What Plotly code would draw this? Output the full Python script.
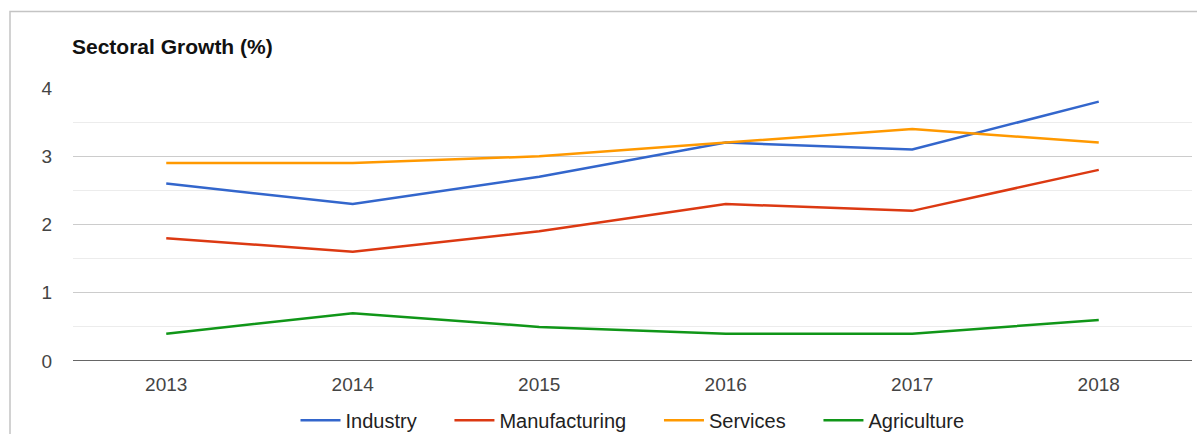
import plotly.graph_objects as go

years = ["2013", "2014", "2015", "2016", "2017", "2018"]
industry = [2.6, 2.3, 2.7, 3.2, 3.1, 3.8]
manufacturing = [1.8, 1.6, 1.9, 2.3, 2.2, 2.8]
services = [2.9, 2.9, 3.0, 3.2, 3.4, 3.2]
agriculture = [0.4, 0.7, 0.5, 0.4, 0.4, 0.6]

series = [
    ("Industry", industry, "#3366CC"),
    ("Manufacturing", manufacturing, "#DC3912"),
    ("Services", services, "#FF9900"),
    ("Agriculture", agriculture, "#109618"),
]

pad = "\u00a0" * 5
fig = go.Figure()
for i, (name, vals, color) in enumerate(series):
    label = name + (pad if i < len(series) - 1 else "")
    fig.add_trace(go.Scatter(x=years, y=vals, name=label, mode="lines",
                             line=dict(color=color, width=2.5)))

font = "Arial, Liberation Sans, sans-serif"
fig.update_layout(
    width=1197, height=434,
    margin=dict(l=73, r=5, t=88, b=73, autoexpand=False),
    paper_bgcolor="white", plot_bgcolor="white",
    font=dict(family=font, size=19, color="#444"),
    showlegend=True,
    legend=dict(orientation="h", x=0.5, xanchor="center", y=-0.217, yanchor="middle",
                font=dict(size=20, color="#222"), itemwidth=40, traceorder="normal"),
    xaxis=dict(type="category", range=[-0.5, 5.5], showgrid=False, zeroline=False,
               showline=False, ticks="", ticklabelstandoff=10,
               tickfont=dict(size=19, color="#444"), fixedrange=True),
    yaxis=dict(range=[0, 4], tickvals=[0, 1, 2, 3, 4], showgrid=True, gridcolor="#cccccc",
               gridwidth=1, zeroline=False, showline=False, ticks="",
               ticklabelstandoff=20, tickfont=dict(size=19, color="#444"),
               minor=dict(dtick=0.5, showgrid=True, gridcolor="#ececec", gridwidth=1),
               fixedrange=True),
)

# zero baseline
fig.add_shape(type="line", xref="paper", yref="y", x0=0, x1=1, y0=0, y1=0,
              line=dict(color="#333333", width=1.5))
# outer border
fig.add_shape(type="rect", xref="paper", yref="paper", x0=-0.0563, x1=1.05,
              y0=-0.4, y1=1.28, line=dict(color="#c4c4c4", width=1.5), layer="below")

fig.add_annotation(text="<b>Sectoral Growth (%)</b>", xref="paper", yref="paper",
                   x=0, y=1.153, xanchor="left", yanchor="middle", showarrow=False,
                   xshift=-3, font=dict(family=font, size=21, color="#111"))

fig.write_html("out.html")
